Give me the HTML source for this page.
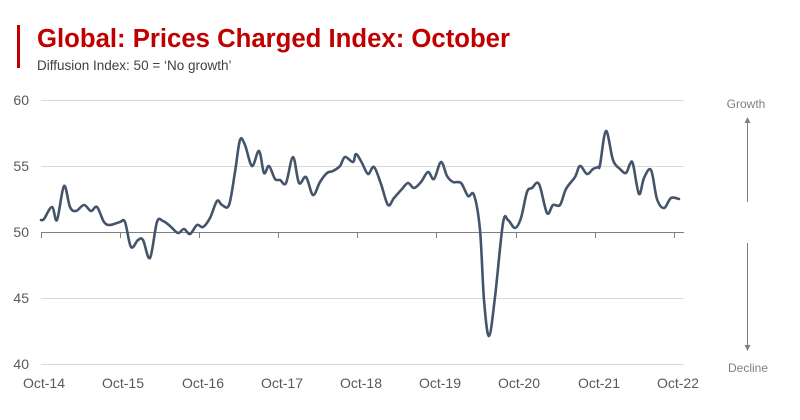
<!DOCTYPE html>
<html><head><style>
body{margin:0;background:#fff;}
svg{display:block;font-family:"Liberation Sans",Arial,sans-serif;}
</style></head><body>
<svg width="800" height="420" viewBox="0 0 800 420">
<rect x="17" y="25" width="3" height="43" fill="#c00000"/>
<text x="37" y="47" font-size="25.5" font-weight="bold" fill="#c00000" textLength="473" lengthAdjust="spacingAndGlyphs">Global: Prices Charged Index: October</text>
<text x="37" y="70" font-size="13.5" fill="#404040">Diffusion Index: 50 = ‘No growth’</text>
<g stroke="#d9d9d9" stroke-width="1">
<line x1="41" y1="100.5" x2="684" y2="100.5"/>
<line x1="41" y1="166.5" x2="684" y2="166.5"/>
<line x1="41" y1="298.5" x2="684" y2="298.5"/>
<line x1="41" y1="364.5" x2="684" y2="364.5"/>
</g>
<g stroke="#808080" stroke-width="1">
<line x1="41" y1="232.5" x2="684" y2="232.5"/>
<line x1="41.5" y1="232" x2="41.5" y2="238"/>
<line x1="120.5" y1="232" x2="120.5" y2="238"/>
<line x1="199.5" y1="232" x2="199.5" y2="238"/>
<line x1="278.5" y1="232" x2="278.5" y2="238"/>
<line x1="357.5" y1="232" x2="357.5" y2="238"/>
<line x1="436.5" y1="232" x2="436.5" y2="238"/>
<line x1="516.5" y1="232" x2="516.5" y2="238"/>
<line x1="595.5" y1="232" x2="595.5" y2="238"/>
<line x1="674.5" y1="232" x2="674.5" y2="238"/>
</g>
<g font-size="14" fill="#595959" text-anchor="end">
<text x="29" y="105">60</text><text x="29" y="171">55</text><text x="29" y="237">50</text><text x="29" y="303">45</text><text x="29" y="369">40</text>
</g>
<g font-size="14" fill="#595959" text-anchor="middle">
<text x="44" y="388">Oct-14</text><text x="123" y="388">Oct-15</text><text x="203" y="388">Oct-16</text><text x="282" y="388">Oct-17</text><text x="361" y="388">Oct-18</text><text x="440" y="388">Oct-19</text><text x="519" y="388">Oct-20</text><text x="599" y="388">Oct-21</text><text x="678" y="388">Oct-22</text>
</g>
<polyline id="ln" fill="none" stroke="#44546a" stroke-width="2.6" stroke-linejoin="round" stroke-linecap="round" points="41,220 44,219 52,207 57,220 64,186 70,207 76,211 84,205 91,211 97,207 104,222 110,225 120,222 125,222 131,247 138,240 143,240 150,258 157,222 163,221 170,226 178,233 184,229 190,234 197,225 203,227 210,218 217,201 222,205 229,205 235,172 240,140 245,145 252,166 259,151 264,173 269,166 275,179 280,180 286,183 293,157 299,183 306,177 313,195 320,182 327,173 333,171 340,166 345,157 353,162 356,154 362,163 368,174 374,167 381,184 388,205 394,198 402,189 408,183 414,188 421,182 428,172 434,179 441,162 447,176 453,182 461,183 468,196 474,195 480,230 484,300 489,336 495,297 503,223 508,220 515,228 521,218 527,192 532,188 539,184 547,213 553,205 560,205 566,189 575,177 580,166 587,174 593,169 598,167 600,165 606,131 613,160 620,169 626,173 630,164 633,164 639,194 644,178 651,170 657,199 664,208 671,198 679,199"/>
<text x="746" y="108" font-size="12" fill="#808080" text-anchor="middle">Growth</text>
<text x="748" y="372" font-size="12" fill="#808080" text-anchor="middle">Decline</text>
<g stroke="#808080" stroke-width="1" fill="#808080">
<line x1="747.5" y1="202" x2="747.5" y2="122"/>
<polygon points="744.5,123 750.5,123 747.5,117" stroke="none"/>
<line x1="747.5" y1="243" x2="747.5" y2="346"/>
<polygon points="744.5,345 750.5,345 747.5,351" stroke="none"/>
</g>
</svg>
<script>
(function(){
var pl=document.getElementById('ln');
var p=pl.getAttribute('points').trim().split(/\s+/).map(function(s){return s.split(',').map(Number);});
var d='M'+p[0][0]+','+p[0][1];
for(var i=0;i<p.length-1;i++){
var p0=p[i-1]||p[i],p1=p[i],p2=p[i+1],p3=p[i+2]||p2,t=1/6;
d+=' C'+(p1[0]+(p2[0]-p0[0])*t)+','+(p1[1]+(p2[1]-p0[1])*t)+' '+(p2[0]-(p3[0]-p1[0])*t)+','+(p2[1]-(p3[1]-p1[1])*t)+' '+p2[0]+','+p2[1];
}
var path=document.createElementNS('http://www.w3.org/2000/svg','path');
['fill','stroke','stroke-width','stroke-linejoin','stroke-linecap'].forEach(function(a){path.setAttribute(a,pl.getAttribute(a));});
path.setAttribute('d',d);
pl.parentNode.replaceChild(path,pl);
})();
</script>
</body></html>
